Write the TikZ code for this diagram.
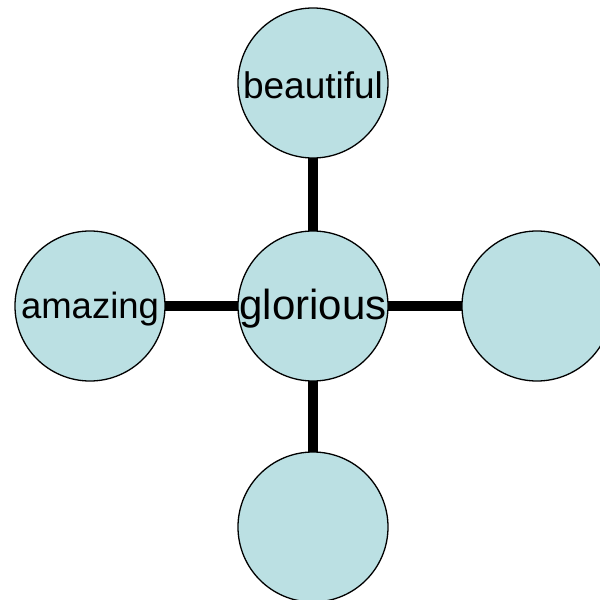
\documentclass[tikz,border=0pt]{standalone}
\usepackage{fontspec}
\setmainfont{Liberation Sans}
\begin{document}
\begin{tikzpicture}[x=1pt,y=-1pt,
  bubble/.style={circle,draw=black,line width=1.3pt,fill=bubblefill,minimum size=150pt,inner sep=0pt},
  word/.style={inner sep=0pt},
  link/.style={line width=10pt,draw=black}]
\definecolor{bubblefill}{HTML}{BBE0E3}
\useasboundingbox (0,0) rectangle (600,600);
\clip (0,0) rectangle (600,600);
\coordinate (cc) at (313,306);
\coordinate (tc) at (313,83);
\coordinate (lc) at (90,306);
\coordinate (rc) at (537,306);
\coordinate (bc) at (313,527);
\draw[link] (cc) -- (tc);
\draw[link] (cc) -- (lc);
\draw[link] (cc) -- (rc);
\draw[link] (cc) -- (bc);
\node[bubble] (top) at (tc) {};
\node[bubble] (left) at (lc) {};
\node[bubble] (right) at (rc) {};
\node[bubble] (bottom) at (bc) {};
\node[bubble] (center) at (cc) {};
\node[word,font=\fontsize{37}{40}\selectfont] (toptext) at ([yshift=-2pt]top.center) {beautiful};
\node[word,font=\fontsize{36.5}{40}\selectfont] (lefttext) at ([yshift=-3pt]left.center) {amazing};
\node[word,font=\fontsize{42}{46}\selectfont] (centertext) at ([yshift=-3pt]center.center) {glorious};
\end{tikzpicture}
\end{document}
